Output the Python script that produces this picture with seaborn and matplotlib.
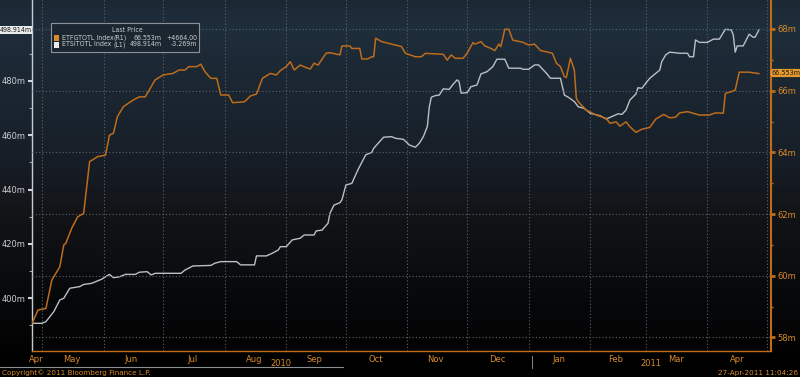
import numpy as np
import pandas as pd
import matplotlib
matplotlib.use("Agg")
import matplotlib.pyplot as plt
import matplotlib.dates as mdates
from matplotlib.ticker import FixedLocator, FuncFormatter, MultipleLocator, NullFormatter, FixedFormatter
from matplotlib.patches import Rectangle
from matplotlib.lines import Line2D
from matplotlib import font_manager
import seaborn as sns

# ---------------- data ----------------
orange_dates = [
    "2010-04-26", "2010-04-29", "2010-05-03", "2010-05-06", "2010-05-10", "2010-05-12",
    "2010-05-13", "2010-05-16", "2010-05-19", "2010-05-22", "2010-05-25", "2010-05-29",
    "2010-06-02", "2010-06-04", "2010-06-06", "2010-06-08", "2010-06-11", "2010-06-16",
    "2010-06-19", "2010-06-22", "2010-06-24", "2010-06-27", "2010-07-01", "2010-07-06",
    "2010-07-09", "2010-07-12", "2010-07-14", "2010-07-18", "2010-07-20", "2010-07-22",
    "2010-07-25", "2010-07-28", "2010-07-30", "2010-08-03", "2010-08-05", "2010-08-11",
    "2010-08-14", "2010-08-17", "2010-08-20", "2010-08-24", "2010-08-27", "2010-08-29",
    "2010-09-01", "2010-09-03", "2010-09-05", "2010-09-08", "2010-09-13", "2010-09-15",
    "2010-09-17", "2010-09-21", "2010-09-23", "2010-09-28", "2010-09-29", "2010-10-03",
    "2010-10-04", "2010-10-08", "2010-10-09", "2010-10-12", "2010-10-14", "2010-10-15",
    "2010-10-16", "2010-10-19", "2010-10-24", "2010-10-29", "2010-10-31", "2010-11-05",
    "2010-11-08", "2010-11-10", "2010-11-19", "2010-11-21", "2010-11-23", "2010-11-25",
    "2010-11-29", "2010-12-01", "2010-12-04", "2010-12-05", "2010-12-08", "2010-12-10",
    "2010-12-13", "2010-12-15", "2010-12-17", "2010-12-18", "2010-12-20", "2010-12-22",
    "2010-12-24", "2010-12-29", "2011-01-01", "2011-01-04", "2011-01-07", "2011-01-10",
    "2011-01-13", "2011-01-15", "2011-01-17", "2011-01-19", "2011-01-20", "2011-01-22",
    "2011-01-24", "2011-01-25", "2011-01-26", "2011-01-30", "2011-02-04", "2011-02-09",
    "2011-02-11", "2011-02-14", "2011-02-16", "2011-02-19", "2011-02-21", "2011-02-24",
    "2011-02-27", "2011-03-03", "2011-03-06", "2011-03-10", "2011-03-13", "2011-03-16",
    "2011-03-18", "2011-03-22", "2011-03-28", "2011-04-02", "2011-04-05", "2011-04-09",
    "2011-04-10", "2011-04-13", "2011-04-15", "2011-04-17", "2011-04-22", "2011-04-27",
]
orange_values = [
    58.45, 58.89, 58.94, 59.86, 60.29, 61.00,
    61.05, 61.54, 61.91, 62.02, 63.70, 63.86,
    63.91, 64.56, 64.62, 65.16, 65.48, 65.70,
    65.80, 65.80, 66.02, 66.35, 66.51, 66.56,
    66.67, 66.67, 66.78, 66.78, 66.86, 66.62,
    66.40, 66.40, 65.86, 65.86, 65.61, 65.64,
    65.83, 65.89, 66.40, 66.56, 66.51, 66.65,
    66.78, 66.94, 66.67, 66.83, 66.70, 66.89,
    66.83, 67.21, 67.23, 67.16, 67.45, 67.45,
    67.37, 67.37, 67.03, 67.03, 67.10, 67.10,
    67.70, 67.59, 67.51, 67.43, 67.21, 67.10,
    67.10, 67.21, 67.18, 66.99, 67.16, 67.05,
    67.05, 67.21, 67.56, 67.51, 67.59, 67.45,
    67.37, 67.30, 67.51, 67.43, 67.99, 67.99,
    67.64, 67.57, 67.48, 67.51, 67.30, 67.26,
    67.21, 66.89, 66.78, 66.45, 66.43, 67.05,
    66.67, 65.75, 65.64, 65.37, 65.21, 65.10,
    64.94, 64.99, 64.85, 64.99, 64.83, 64.65,
    64.75, 64.81, 65.08, 65.23, 65.12, 65.14,
    65.28, 65.32, 65.21, 65.21, 65.28, 65.27,
    65.91, 65.97, 66.02, 66.60, 66.60, 66.553,
]

white_dates = [
    "2010-04-26", "2010-05-01", "2010-05-03", "2010-05-07", "2010-05-10", "2010-05-12",
    "2010-05-15", "2010-05-20", "2010-05-22", "2010-05-26", "2010-05-28", "2010-05-31",
    "2010-06-04", "2010-06-06", "2010-06-09", "2010-06-12", "2010-06-17", "2010-06-19",
    "2010-06-23", "2010-06-25", "2010-06-27", "2010-07-10", "2010-07-12", "2010-07-16",
    "2010-07-25", "2010-07-27", "2010-07-30", "2010-08-07", "2010-08-09", "2010-08-16",
    "2010-08-17", "2010-08-22", "2010-08-25", "2010-08-28", "2010-08-29", "2010-09-01",
    "2010-09-04", "2010-09-08", "2010-09-10", "2010-09-15", "2010-09-16", "2010-09-19",
    "2010-09-22", "2010-09-23", "2010-09-25", "2010-09-28", "2010-09-29", "2010-10-01",
    "2010-10-04", "2010-10-07", "2010-10-11", "2010-10-14", "2010-10-15", "2010-10-18",
    "2010-10-20", "2010-10-24", "2010-10-26", "2010-10-30", "2010-11-02", "2010-11-05",
    "2010-11-07", "2010-11-09", "2010-11-11", "2010-11-12", "2010-11-13", "2010-11-15",
    "2010-11-17", "2010-11-19", "2010-11-22", "2010-11-24", "2010-11-26", "2010-11-27",
    "2010-11-28", "2010-12-01", "2010-12-03", "2010-12-06", "2010-12-08", "2010-12-11",
    "2010-12-14", "2010-12-16", "2010-12-20", "2010-12-22", "2010-12-28", "2010-12-29",
    "2011-01-01", "2011-01-04", "2011-01-06", "2011-01-10", "2011-01-12", "2011-01-17",
    "2011-01-19", "2011-01-21", "2011-01-24", "2011-01-26", "2011-01-29", "2011-02-01",
    "2011-02-06", "2011-02-09", "2011-02-11", "2011-02-15", "2011-02-17", "2011-02-19",
    "2011-02-21", "2011-02-24", "2011-02-25", "2011-02-27", "2011-03-01", "2011-03-03",
    "2011-03-04", "2011-03-06", "2011-03-08", "2011-03-09", "2011-03-11", "2011-03-13",
    "2011-03-18", "2011-03-22", "2011-03-23", "2011-03-25", "2011-03-26", "2011-03-28",
    "2011-04-01", "2011-04-04", "2011-04-07", "2011-04-10", "2011-04-13", "2011-04-14",
    "2011-04-15", "2011-04-16", "2011-04-19", "2011-04-22", "2011-04-24", "2011-04-25",
    "2011-04-27",
]
white_values = [
    390.8, 390.8, 391.4, 395.1, 399.4, 400.0,
    403.7, 404.3, 405.1, 405.5, 406.1, 407.0,
    408.8, 407.6, 407.9, 408.8, 408.8, 409.6,
    409.8, 408.6, 409.2, 409.2, 410.4, 411.9,
    412.1, 412.9, 413.5, 413.5, 412.3, 412.3,
    415.6, 415.6, 416.6, 417.8, 419.0, 419.0,
    421.5, 422.1, 423.3, 423.3, 424.8, 425.1,
    427.6, 431.3, 434.3, 435.2, 436.2, 441.7,
    442.3, 447.2, 452.8, 453.7, 455.2, 457.7,
    459.3, 459.5, 458.9, 458.5, 456.4, 455.6,
    457.1, 459.5, 463.2, 470.5, 474.0, 474.6,
    474.8, 477.1, 476.9, 478.8, 480.4, 479.7,
    475.5, 475.7, 477.9, 478.5, 482.6, 483.4,
    485.3, 488.0, 488.0, 484.7, 484.7, 484.3,
    484.3, 485.9, 485.9, 482.8, 481.0, 481.0,
    474.8, 474.0, 472.4, 470.5, 469.9, 468.1,
    467.2, 466.0, 466.6, 467.9, 467.7, 469.3,
    473.0, 475.2, 477.5, 477.3, 479.2, 481.0,
    481.6, 482.8, 484.0, 487.1, 489.6, 490.6,
    490.2, 490.2, 488.9, 488.9, 495.1, 494.2,
    494.2, 495.4, 495.4, 499.0, 498.8, 496.9,
    490.6, 492.9, 492.9, 497.2, 496.1, 496.1,
    498.914,
]

month_labels = ["Apr", "May", "Jun", "Jul", "Aug", "Sep", "Oct",
                "Nov", "Dec", "Jan", "Feb", "Mar", "Apr"]
month_label_dates = ["2010-04-28", "2010-05-16", "2010-06-15", "2010-07-16", "2010-08-16",
                     "2010-09-15", "2010-10-16", "2010-11-15", "2010-12-16", "2011-01-16",
                     "2011-02-14", "2011-03-16", "2011-04-16"]
left_ticks = [400, 420, 440, 460, 480]
right_ticks = [58, 60, 62, 64, 66, 68]
year_labels = ["2010", "2011"]

legend_title = "Last Price"
legend_names = ["ETFGTOTL Index", "ETSITOTL Index"]
legend_axes = ["(R1)", "(L1)"]
legend_last = ["66.553m", "498.914m"]
legend_change = ["+4664.00", "-3.269m"]
last_left = "498.914m"
last_right = "66.553m"

# ---------------- style ----------------
ORANGE = "#bd6c1c"
ORANGE_TXT = "#d98a2a"
WHITE_LINE = "#b9c0c6"
GRID = "#5a636c"
TXT = "#c9cdd1"

sns.set_style("dark")
plt.rcParams["font.family"] = ["DejaVu Sans"]

installed = {f.name for f in font_manager.fontManager.ttflist}
NARROW = ["Liberation Sans Narrow"] if "Liberation Sans Narrow" in installed else ["DejaVu Sans"]
NARROW_STRETCH = "normal" if NARROW[0] == "Liberation Sans Narrow" else "condensed"

W, H = 800, 377
fig = plt.figure(figsize=(W / 100, H / 100), dpi=100, facecolor="black")

# background gradient (top of figure down to x-axis)
plot_bottom_px = 351
bg = fig.add_axes([0, 1 - plot_bottom_px / H, 1, plot_bottom_px / H], zorder=-10)
stops_pos = [0.0, 0.08, 0.2, 0.35, 0.5, 0.6, 0.72, 0.85, 1.0]
stops_col = ["#1c2935", "#1f2e3b", "#1c2834", "#19232d", "#161b23", "#131418",
             "#0d0f12", "#07080a", "#030303"]
rgb = np.array([matplotlib.colors.to_rgb(c) for c in stops_col])
yy = np.linspace(0, 1, 400)
grad = np.stack([np.interp(yy, stops_pos, rgb[:, i]) for i in range(3)], axis=-1)
bg.imshow(grad[:, None, :], aspect="auto", extent=[0, 1, 0, 1])
bg.set_axis_off()

left_px, right_px, top_px = 32, 771, 0
ax = fig.add_axes([left_px / W, 1 - plot_bottom_px / H,
                   (right_px - left_px) / W, (plot_bottom_px - top_px) / H])
ax.set_facecolor("none")
ax2 = ax.twinx()
ax2.set_facecolor("none")

dfw = pd.DataFrame({"date": pd.to_datetime(white_dates), "value": white_values})
dfo = pd.DataFrame({"date": pd.to_datetime(orange_dates), "value": orange_values})

sns.lineplot(data=dfw, x="date", y="value", ax=ax, color=WHITE_LINE, linewidth=1.0, zorder=3)
sns.lineplot(data=dfo, x="date", y="value", ax=ax2, color=ORANGE, linewidth=1.1, zorder=4)

ax.set_xlim(pd.Timestamp("2010-04-26"), pd.Timestamp("2011-05-03"))
ax.set_ylim(380.6, 509.8)
ax2.set_ylim(57.56, 68.94)
for a in (ax, ax2):
    a.set_xlabel("")
    a.set_ylabel("")

# x axis
ax.xaxis.set_major_locator(mdates.MonthLocator())
ax.xaxis.set_major_formatter(NullFormatter())
ax.xaxis.set_minor_locator(FixedLocator(mdates.date2num(pd.to_datetime(month_label_dates))))
ax.xaxis.set_minor_formatter(FixedFormatter(month_labels))
ax.tick_params(axis="x", which="major", length=2.5, width=0.8, color=ORANGE, direction="out")
ax.tick_params(axis="x", which="minor", length=0, labelsize=6, labelcolor=ORANGE_TXT, pad=3)
ax.xaxis.grid(True, which="major", color=GRID, linestyle=(0, (1, 2)), linewidth=0.8)
ax.yaxis.grid(False)

# left axis
ax.yaxis.set_major_locator(FixedLocator(left_ticks))
ax.yaxis.set_minor_locator(MultipleLocator(10))
ax.yaxis.set_major_formatter(FuncFormatter(lambda v, p: f"{v:.0f}m"))
ax.tick_params(axis="y", which="major", length=3, width=1.5, color="#d0d4d8",
               labelsize=6, labelcolor=TXT, pad=1.5)
ax.tick_params(axis="y", which="minor", length=2, width=0.8, color="#9aa0a6")

# right axis
ax2.yaxis.set_major_locator(FixedLocator(right_ticks))
ax2.yaxis.set_minor_locator(MultipleLocator(1))
ax2.yaxis.set_major_formatter(FuncFormatter(lambda v, p: f"{v:.0f}m"))
ax2.tick_params(axis="y", which="major", length=3, width=2, color=ORANGE,
                labelsize=6, labelcolor=ORANGE_TXT, pad=1.5)
ax2.tick_params(axis="y", which="minor", length=1.5, width=1, color=ORANGE)
ax2.yaxis.grid(True, which="major", color=GRID, linestyle=(0, (1, 2)), linewidth=0.8)
ax2.xaxis.grid(False)

for a in (ax, ax2):
    a.spines["top"].set_visible(False)
ax.spines["left"].set_color("#c8ccd0")
ax.spines["left"].set_linewidth(1.0)
ax.spines["bottom"].set_color(ORANGE)
ax.spines["bottom"].set_linewidth(1.0)
ax.spines["right"].set_visible(False)
ax2.spines["left"].set_visible(False)
ax2.spines["bottom"].set_visible(False)
ax2.spines["right"].set_color(ORANGE)
ax2.spines["right"].set_linewidth(1.5)


def fx(px):
    return px / W


def fy(py):
    return 1 - py / H


# year labels and separators
fig.text(fx(281), fy(364), year_labels[0], color=ORANGE_TXT, fontsize=6, ha="center", va="center")
fig.text(fx(651), fy(364), year_labels[1], color=ORANGE_TXT, fontsize=6, ha="center", va="center")
fig.add_artist(Line2D([fx(532), fx(532)], [fy(356), fy(368)], color="#7a7f84", linewidth=0.8))
fig.add_artist(Line2D([fx(0), fx(343)], [fy(367), fy(367)], color="#8a8f94", linewidth=0.8))

# footer
fig.text(fx(2), fy(373), "Copyright\u00a9 2011 Bloomberg Finance L.P.", color=ORANGE_TXT,
         fontsize=5.2, ha="left", va="center")
fig.text(fx(798), fy(373), "27-Apr-2011 11:04:26", color=ORANGE_TXT,
         fontsize=5.2, ha="right", va="center")

# legend box
nk = dict(family=NARROW, fontstretch=NARROW_STRETCH, fontsize=5.0, color=TXT, zorder=21)
fig.add_artist(Rectangle((fx(51), fy(52)), fx(199) - fx(51), fy(23) - fy(52),
                         transform=fig.transFigure, facecolor="#1b2631",
                         edgecolor="#8c9298", linewidth=0.8, zorder=20))
fig.text(fx(127), fy(30), legend_title, ha="center", va="center", **nk)
row_y = [37.5, 44.5]
marker_cols = [ORANGE_TXT, "#e8eaec"]
last_x = [133, 130]
for i, (yv, mc) in enumerate(zip(row_y, marker_cols)):
    fig.add_artist(Rectangle((fx(54), fy(yv + 3)), fx(5), fy(0) - fy(6),
                             transform=fig.transFigure, facecolor=mc, edgecolor="none", zorder=21))
    fig.text(fx(62), fy(yv), legend_names[i], ha="left", va="center", **nk)
    fig.text(fx(114), fy(yv), legend_axes[i], ha="left", va="center", **nk)
    fig.text(fx(last_x[i]), fy(yv), legend_last[i], ha="left", va="center", **nk)
    fig.text(fx(197), fy(yv), legend_change[i], ha="right", va="center", **nk)

# last value tags
fig.text(fx(15.5), fy(30), last_left, color="#1a1a1a", family=NARROW, fontstretch=NARROW_STRETCH,
         fontsize=5.0, ha="center", va="center",
         bbox=dict(boxstyle="square,pad=0.1", facecolor="#e8eaec", edgecolor="none"), zorder=22)
fig.text(fx(786), fy(73), last_right, color="#1a1a1a", family=NARROW, fontstretch=NARROW_STRETCH,
         fontsize=5.2, ha="center", va="center",
         bbox=dict(boxstyle="round,pad=0.15,rounding_size=0.4", facecolor="#e89a2a", edgecolor="none"),
         zorder=22)

fig.savefig("out.png", dpi=100, facecolor="black")
